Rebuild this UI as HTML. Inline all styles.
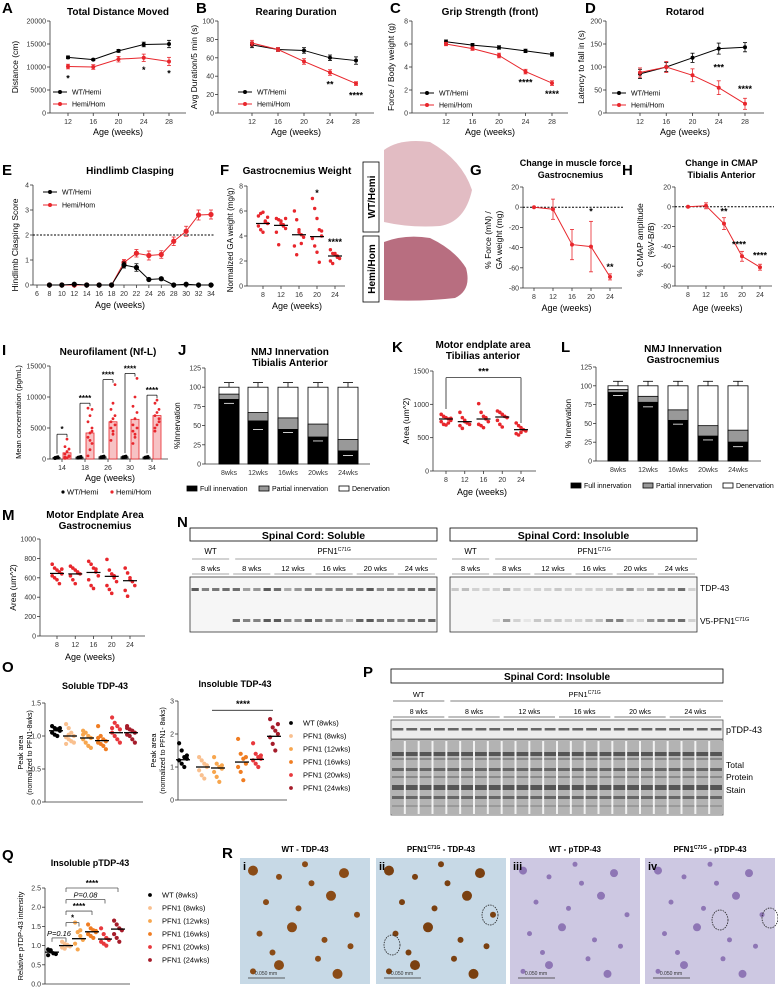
<!DOCTYPE html>
<html><head><meta charset="utf-8"><style>
html,body{margin:0;padding:0;background:#fff}
svg{display:block;font-family:"Liberation Sans",Arial,sans-serif}
</style></head><body>
<svg id="fig" width="778" height="987" viewBox="0 0 778 987"></svg>
<script>
// ---------- data ----------
const ageA=[12,16,20,24,28];
const distWT=[12100,11600,13500,14900,15000];
const distHom=[10100,10000,11700,12000,11200];
const distErrWT=[300,200,300,500,800];
const distErrHom=[500,500,600,800,900];
const rearWT=[74,69,68,60,57];
const rearHom=[76,69,56,44,32];
const rearErrWT=[3,2,3,3,4];
const rearErrHom=[3,2,3,3,2];
const gripWT=[6.2,5.9,5.7,5.4,5.1];
const gripHom=[6.0,5.6,5.0,3.6,2.6];
const gripErrWT=[0.15,0.15,0.15,0.15,0.15];
const gripErrHom=[0.15,0.15,0.2,0.2,0.2];
const rotWT=[85,100,120,140,143];
const rotHom=[88,100,82,55,20];
const rotErrWT=[10,10,10,12,10];
const rotErrHom=[10,12,14,15,12];
const ageE=[8,10,12,14,16,18,20,22,24,26,28,30,32,34];
const claspWT=[0,0,0.03,0,0,0,0.8,0.7,0.22,0.25,0,0.03,0,0];
const claspHom=[0,0,0,0,0,0,0.9,1.27,1.18,1.22,1.75,2.15,2.8,2.82];
const claspErrWT=[0,0,0,0,0,0,0.12,0.15,0.05,0.05,0,0,0,0];
const claspErrHom=[0,0,0,0,0,0,0.12,0.15,0.18,0.15,0.17,0.2,0.2,0.18];
const ageF=[8,12,16,20,24];
const gaPts=[[5.6,5.8,5.9,5.2,5.0,4.8,4.5,4.3,5.1,5.5],[5.4,5.3,5.0,4.9,4.6,4.3,3.3,5.2,4.8,5.4],[6.0,5.3,4.5,4.1,3.9,3.2,2.5,4.3,3.4],[7.0,6.2,5.4,4.5,4.0,3.8,3.2,2.7,1.9,4.4],[2.9,2.6,2.5,2.4,2.2,2.0,1.8,2.6,2.3]];
const gaMed=[5.0,4.85,4.1,3.95,2.4];
const ageG=[8,12,16,20,24];
const forceVals=[0,-2,-37,-39,-69];
const forceErr=[0,10,15,25,3];
const cmapVals=[0,1,-17,-50,-61];
const cmapErr=[0,3,6,5,3];
const nflCats=['14','18','26','30','34'];
const nflWT=[250,300,350,350,300];
const nflHom=[1000,4200,6000,6400,7000];
const nflPtsHom=[[100,200,400,800,1200,1600,2000,3200,500,300],[500,1500,2500,3500,4200,5000,6000,7000,8000,8200,3000,4500],[3000,4500,5500,6000,6500,7000,8000,9000,12000,5000,4000],[2500,4000,5000,5500,6500,7500,8500,10000,13000,4500,3500],[4500,5500,6500,7000,7500,8000,9000,9500,6000,5000]];
const nmjCats=['8wks','12wks','16wks','20wks','24wks'];
const taFull=[84,56,45,35,17];
const taPartial=[7,11,15,17,15];
const taErr=[2,8,1,2,3];
const gcFull=[91,78,54,33,25];
const gcPartial=[4,8,14,14,16];
const gcErr=[1,3,2,2,3];
const kPts=[[850,820,800,780,760,740,700,690,720,790],[880,800,760,720,700,680,640,740],[1010,880,820,780,740,700,680,650,800],[900,880,850,820,800,760,700,660],[720,680,650,620,600,560,540,580]];
const kMed=[780,740,780,810,620];
const mPts=[[740,700,680,660,640,620,600,580,540,690],[720,700,680,660,640,620,580,540,650],[770,740,700,660,620,580,520,490,690],[790,680,640,600,560,520,480,440,620],[700,650,600,560,520,470,410,580]];
const mMed=[645,640,655,615,570];
const oGroups=['WT (8wks)','PFN1 (8wks)','PFN1 (12wks)','PFN1 (16wks)','PFN1 (20wks)','PFN1 (24wks)'];
const solPts=[[1.15,1.12,1.1,1.08,1.05,1.02,1.0,1.12],[1.18,1.12,1.05,1.0,0.98,0.95,0.92,0.9,0.88,1.02],[1.08,1.05,1.0,0.97,0.95,0.9,0.85,0.82,1.02],[1.15,1.0,0.95,0.92,0.9,0.88,0.85,0.8,0.97],[1.28,1.2,1.15,1.1,1.05,1.0,0.95,0.9,1.12],[1.15,1.1,1.08,1.05,1.02,1.0,0.95,0.9,1.12]];
const solMean=[1.08,1.0,0.97,0.93,1.05,1.05];
const insPts=[[1.72,1.5,1.3,1.25,1.2,1.1,1.0,1.35],[1.3,1.2,1.1,1.0,0.9,0.75,0.65,1.05],[1.3,1.1,1.0,0.95,0.85,0.7,0.55,1.05],[1.85,1.4,1.25,1.1,1.0,0.85,0.6,1.3],[1.72,1.4,1.3,1.25,1.2,1.1,1.0,1.35],[2.45,2.2,2.1,2.0,1.9,1.7,1.5,2.3]];
const insMean=[1.22,1.0,0.97,1.15,1.23,1.93];
const qPts=[[0.9,0.85,0.8,0.78,0.75,0.88],[1.1,1.05,1.0,0.98,0.95,0.92,1.02],[1.6,1.35,1.25,1.15,1.05,0.9,1.4],[1.55,1.45,1.4,1.35,1.3,1.25,1.2,1.38],[1.45,1.3,1.2,1.15,1.1,1.05,1.0],[1.65,1.55,1.45,1.4,1.3,1.2,1.1]];
const qMean=[0.83,1.0,1.18,1.36,1.17,1.43];
const oColors=['#000','#f9c08f','#f7a64e','#f07d22','#e8383d','#a51c2a'];
const RED='#e8262c';

// ---------- helpers ----------
const NS='http://www.w3.org/2000/svg';
const svg=document.getElementById('fig');
function mk(tag,parent){const e=document.createElementNS(NS,tag);(parent||svg).appendChild(e);return e;}
function at(e,o){for(const k in o)e.setAttribute(k,o[k]);return e;}
function lin(a,b,p0,p1){return v=>p0+(v-a)/(b-a)*(p1-p0);}
function txt(x,y,s,size,name,opt){
  opt=opt||{};
  const t=mk('text');
  at(t,{x:x,y:y,'font-size':size,'text-anchor':opt.anchor||'middle',fill:opt.fill||'#000'});
  if(opt.bold)t.setAttribute('font-weight','bold');
  if(opt.italic)t.setAttribute('font-style','italic');
  if(opt.rot)t.setAttribute('transform','rotate('+opt.rot+' '+x+' '+y+')');
  t.textContent=s;
  
  
  return t;
}
function line(x1,y1,x2,y2,name,col,w,dash){
  const l=mk('line');
  at(l,{x1:x1,y1:y1,x2:x2,y2:y2,stroke:col||'#000','stroke-width':w||1});
  if(dash)l.setAttribute('stroke-dasharray',dash);
  
  
  return l;
}
function rect(x,y,w,h,name,fill,stroke){
  const r=mk('rect');
  at(r,{x:x,y:y,width:w,height:h,fill:fill||'none'});
  if(stroke){r.setAttribute('stroke',stroke);r.setAttribute('stroke-width',0.8);}
  
  
  return r;
}
function dot(x,y,r,col,name){
  const c=mk('circle');
  at(c,{cx:x,cy:y,r:r,fill:col});
  
  
  return c;
}
function yAxis(ax,sy,ticks,labels,pre,fs){
  line(ax,sy(ticks[0]),ax,sy(ticks[ticks.length-1]),pre+'-y-axis','#333',0.8);
  ticks.forEach((v,i)=>{line(ax-3,sy(v),ax,sy(v),pre+'-y-tick','#333',0.8);
    txt(ax-4,sy(v)+2.5,labels[i],fs||7,pre+'-y-tick-label',{anchor:'end',fill:'#333'});});
}
function xAxis(y,xa,xb,sx,vals,labels,pre,fs){
  line(xa,y,xb,y,pre+'-x-axis','#333',0.8);
  vals.forEach((v,i)=>{line(sx(v),y,sx(v),y+3,pre+'-x-tick','#333',0.8);
    txt(sx(v),y+11,labels[i],fs||7,pre+'-x-tick-label',{fill:'#333'});});
}
function series(sx,sy,xs,ys,errs,col,pre,r){
  const p=mk('polyline');
  at(p,{points:xs.map((x,i)=>sx(x)+','+sy(ys[i])).join(' '),fill:'none',stroke:col,'stroke-width':1});
  
  
  xs.forEach((x,i)=>{
    if(errs[i]>0){line(sx(x),sy(ys[i]-errs[i]),sx(x),sy(ys[i]+errs[i]),pre+'-error-bar',col,0.8);
      line(sx(x)-2,sy(ys[i]+errs[i]),sx(x)+2,sy(ys[i]+errs[i]),pre+'-error-cap',col,0.8);
      line(sx(x)-2,sy(ys[i]-errs[i]),sx(x)+2,sy(ys[i]-errs[i]),pre+'-error-cap',col,0.8);}
    dot(sx(x),sy(ys[i]),r||2,col,pre+'-point');
  });
}
function legendLine(x,y,col,label,pre){
  line(x,y,x+14,y,pre+'-legend-line',col,1);
  dot(x+7,y,2,col,pre+'-legend-marker');
  txt(x+19,y+2.5,label,7,pre+'-legend-label',{anchor:'start'});
}
function letter(x,y,s){txt(x,y,s,15,'panel-letter-'+s.toLowerCase(),{anchor:'start',bold:true});}

// ---------- Row 1 ----------
function row1(cfg){
  const sy=lin(cfg.ymin,cfg.ymax,113,21);
  const sx=lin(12,28,cfg.x0,cfg.x1);
  yAxis(cfg.ax,sy,cfg.ticks,cfg.labels,cfg.pre);
  xAxis(113,cfg.ax,cfg.end,sx,ageA,ageA.map(String),cfg.pre);
  txt((cfg.ax+cfg.end)/2,15,cfg.title,10,cfg.pre+'-title',{bold:true});
  txt((cfg.ax+cfg.end)/2,135,'Age (weeks)',9,cfg.pre+'-x-title');
  txt(cfg.ax-cfg.yoff,67,cfg.ytitle,8.5,cfg.pre+'-y-title',{rot:-90});
  series(sx,sy,ageA,cfg.wt,cfg.ewt,'#000',cfg.pre+'-wt');
  series(sx,sy,ageA,cfg.hom,cfg.ehom,RED,cfg.pre+'-hom');
  legendLine(cfg.lx,cfg.ly,'#000','WT/Hemi',cfg.pre);
  legendLine(cfg.lx,cfg.ly+12,RED,'Hemi/Hom',cfg.pre);
  cfg.stars.forEach(s=>txt(sx(s[0]),s[2]?sy(cfg.hom[ageA.indexOf(s[0])])+s[2]:0,s[1],9,cfg.pre+'-significance',{bold:true}));
}
letter(2,13,'A');letter(196,13,'B');letter(390,13,'C');letter(585,13,'D');
row1({pre:'distance',ax:50,end:186,x0:68,x1:169,ymin:0,ymax:20000,ticks:[0,5000,10000,15000,20000],labels:['0','5000','10000','15000','20000'],title:'Total Distance Moved',ytitle:'Distance (cm)',yoff:32,wt:distWT,hom:distHom,ewt:distErrWT,ehom:distErrHom,lx:53,ly:92,stars:[[12,'*',15],[24,'*',15],[28,'*',15]]});
row1({pre:'rearing',ax:218,end:374,x0:252,x1:356,ymin:0,ymax:100,ticks:[0,20,40,60,80,100],labels:['0','20','40','60','80','100'],title:'Rearing Duration',ytitle:'Avg Duration/5 min (s)',yoff:21,wt:rearWT,hom:rearHom,ewt:rearErrWT,ehom:rearErrHom,lx:238,ly:92,stars:[[24,'**',15],[28,'****',15]]});
row1({pre:'grip',ax:412,end:568,x0:446,x1:552,ymin:0,ymax:8,ticks:[0,2,4,6,8],labels:['0','2','4','6','8'],title:'Grip Strength (front)',ytitle:'Force / Body weight (g)',yoff:18,wt:gripWT,hom:gripHom,ewt:gripErrWT,ehom:gripErrHom,lx:420,ly:93,stars:[[24,'****',14],[28,'****',14]]});
row1({pre:'rotarod',ax:606,end:764,x0:640,x1:745,ymin:0,ymax:200,ticks:[0,50,100,150,200],labels:['0','50','100','150','200'],title:'Rotarod',ytitle:'Latency to fall in (s)',yoff:22,wt:rotWT,hom:rotHom,ewt:rotErrWT,ehom:rotErrHom,lx:612,ly:93,stars:[[24,'***',-17],[28,'****',-12]]});

// ---------- E ----------
letter(2,175,'E');
(function(){
  const sy=lin(0,4,285,185),sx=lin(6,34,37,211);
  yAxis(33,sy,[0,1,2,3,4],['0','1','2','3','4'],'clasping');
  xAxis(285,33,214,sx,[6].concat(ageE),['6'].concat(ageE.map(String)),'clasping');
  line(33,sy(2),214,sy(2),'clasping-threshold-line','#000',1,'2,1.5');
  txt(130,174,'Hindlimb Clasping',10,'clasping-title',{bold:true});
  txt(120,308,'Age (weeks)',9,'clasping-x-title');
  txt(18,245,'Hindlimb Clasping Score',8.5,'clasping-y-title',{rot:-90});
  series(sx,sy,ageE,claspHom,claspErrHom,RED,'clasping-hom',2.6);
  series(sx,sy,ageE,claspWT,claspErrWT,'#000','clasping-wt',2.6);
  legendLine(43,192,'#000','WT/Hemi','clasping');
  legendLine(43,205,RED,'Hemi/Hom','clasping');
})();

// ---------- F ----------
letter(220,175,'F');
(function(){
  const sy=lin(0,8,286,186),sx=lin(8,24,263,335);
  yAxis(247,sy,[0,2,4,6,8],['0','2','4','6','8'],'ga-weight');
  xAxis(286,247,345,sx,ageF,ageF.map(String),'ga-weight');
  txt(297,174,'Gastrocnemius Weight',10,'ga-weight-title',{bold:true});
  txt(297,309,'Age (weeks)',9,'ga-weight-x-title');
  txt(233,240,'Normalized GA weight (mg/g)',8,'ga-weight-y-title',{rot:-90});
  gaPts.forEach((g,i)=>{g.forEach((v,j)=>dot(sx(ageF[i])+((j%5)-2)*2.3,sy(v),1.7,RED,'ga-weight-point'));
    line(sx(ageF[i])-7,sy(gaMed[i]),sx(ageF[i])+7,sy(gaMed[i]),'ga-weight-median','#000',1.2);});
  txt(sx(20),sy(7.2),'*',9,'ga-weight-significance',{bold:true});
  txt(sx(24),sy(3.3),'****',9,'ga-weight-significance',{bold:true});
})();
// histology
(function(){
  rect(363,162,16,70,'wt-hemi-label-box','#fff','#000');
  txt(375,197,'WT/Hemi',10,'wt-hemi-label',{bold:true,rot:-90});
  rect(363,236,16,66,'hemi-hom-label-box','#fff','#000');
  txt(375,269,'Hemi/Hom',10,'hemi-hom-label',{bold:true,rot:-90});
  const p1=mk('path');at(p1,{d:'M384,150 Q400,138 430,142 Q462,160 472,190 Q465,222 440,226 Q410,228 384,222 Z',fill:'#e2bcc3'});
  
  const p2=mk('path');at(p2,{d:'M384,242 Q405,234 430,238 Q455,250 466,268 Q472,290 455,298 Q420,302 384,300 Z',fill:'#b86e80'});
  
})();

// ---------- G / H ----------
function changeChart(pre,ax,x0,x1,ybot,vals,errs,title1,title2,yt1,yt2,letterX,L,stars){
  letter(letterX,175,L);
  const sy=lin(-80,20,ybot,187),sx=lin(8,24,x0,x1);
  yAxis(ax,sy,[-80,-60,-40,-20,0,20],['-80','-60','-40','-20','0','20'],pre);
  xAxis(ybot,ax,x1+12,sx,ageG,ageG.map(String),pre);
  line(ax,sy(0),x1+14,sy(0),pre+'-zero-line','#000',1,'2,1.5');
  txt((ax+x1)/2+4,166,title1,9,pre+'-title',{bold:true});
  txt((ax+x1)/2+4,178,title2,9,pre+'-title',{bold:true});
  txt((ax+x1)/2,311,'Age (weeks)',9,pre+'-x-title');
  txt(ax-32,240,yt1,8.5,pre+'-y-title',{rot:-90});
  txt(ax-21,240,yt2,8.5,pre+'-y-title',{rot:-90});
  series(sx,sy,ageG,vals,errs,RED,pre+'-hom');
  stars.forEach(s=>txt(sx(s[0])+(s[2]||0),sy(s[1]),s[3],9,pre+'-significance',{bold:true}));
}
changeChart('muscle-force',523,534,610,288,forceVals,forceErr,'Change in muscle force','Gastrocnemius','% Force (mN) /','GA weight (mg)',470,'G',[[20,-7,0,'*'],[24,-62,0,'**']]);
changeChart('cmap',675,688,760,286,cmapVals,cmapErr,'Change in CMAP','Tibialis Anterior','% CMAP amplitude','(%V-B/B)',622,'H',[[16,-8,0,'**'],[20,-41,-3,'****'],[24,-52,0,'****']]);

// ---------- I ----------
letter(2,355,'I');
(function(){
  const sy=lin(0,15000,459,366);
  const cx=[62,85,108,130,152];
  yAxis(50,sy,[0,5000,10000,15000],['0','5000','10000','15000'],'nfl');
  line(50,459,168,459,'nfl-x-axis','#333',0.8);
  nflCats.forEach((c,i)=>{line(cx[i],459,cx[i],462,'nfl-x-tick','#333',0.8);txt(cx[i],470,c,7,'nfl-x-tick-label',{fill:'#333'});
    rect(cx[i]-9,sy(nflWT[i]),7,459-sy(nflWT[i]),'nfl-bar-wt','#ddd','#000');
    rect(cx[i]+1,sy(nflHom[i]),8,459-sy(nflHom[i]),'nfl-bar-hom','#f7c2c4',RED);
    for(let j=0;j<6;j++)dot(cx[i]-5.5+(j%3-1)*1.5,sy(nflWT[i]+(j-3)*60),1.4,'#000','nfl-point-wt');
    nflPtsHom[i].forEach((v,j)=>dot(cx[i]+5+((j%3)-1)*2,sy(v),1.4,RED,'nfl-point-hom'));
    const top=Math.max.apply(null,nflPtsHom[i])+800;
    line(cx[i]-5,sy(nflWT[i]+600),cx[i]-5,sy(top),'nfl-bracket','#000',0.7);
    line(cx[i]-5,sy(top),cx[i]+5,sy(top),'nfl-bracket','#000',0.7);
    line(cx[i]+5,sy(top),cx[i]+5,sy(top-500),'nfl-bracket','#000',0.7);
    txt(cx[i],sy(top)-2,i===0?'*':'****',8,'nfl-significance',{bold:true});
  });
  txt(108,355,'Neurofilament (Nf-L)',10,'nfl-title',{bold:true});
  txt(110,481,'Age (weeks)',9,'nfl-x-title');
  txt(21,412,'Mean concentration (pg/mL)',7.5,'nfl-y-title',{rot:-90});
  dot(63,492,1.6,'#000','nfl-legend-marker');txt(67,494.5,'WT/Hemi',7.5,'nfl-legend-label',{anchor:'start'});
  dot(112,492,1.6,RED,'nfl-legend-marker');txt(116,494.5,'Hemi/Hom',7.5,'nfl-legend-label',{anchor:'start'});
})();

// ---------- J / L stacked bars ----------
function stacked(pre,ax,ybot,ytop125,cx,full,part,err,t1,t2,tx,L,lx,ly,ytitle,legX){
  letter(lx,ly,L);
  const sy=lin(0,125,ybot,ytop125);
  yAxis(ax,sy,[0,25,50,75,100,125],['0','25','50','75','100','125'],pre);
  line(ax,ybot,ax+165,ybot,pre+'-x-axis','#333',0.8);
  nmjCats.forEach((c,i)=>{
    const x=cx[i]-10;
    rect(x,sy(100),20,ybot-sy(100),pre+'-bar-denervation-'+c,'#fff','#000');
    rect(x,sy(full[i]+part[i]),20,sy(full[i])-sy(full[i]+part[i]),pre+'-bar-partial-'+c,'#999','#000');
    rect(x,sy(full[i]),20,ybot-sy(full[i]),pre+'-bar-full-'+c,'#000','#000');
    line(cx[i],sy(100),cx[i],sy(100+6),pre+'-error-bar','#000',0.8);
    line(cx[i]-5,sy(106),cx[i]+5,sy(106),pre+'-error-cap','#000',0.8);
    line(cx[i]-5,sy(full[i]-err[i]-3),cx[i]+5,sy(full[i]-err[i]-3),pre+'-error-cap','#fff',0.8);
    txt(cx[i],ybot+11,c,7,pre+'-x-tick-label',{fill:'#333'});
  });
  txt(tx,ly,t1,10,pre+'-title',{bold:true});
  txt(tx,ly+11,t2,10,pre+'-title',{bold:true});
  txt(ax-25,(ybot+sy(100))/2,ytitle,8,pre+'-y-title',{rot:-90});
  const yy=ybot+27;
  rect(legX,yy-5,10,5,pre+'-legend-full','#000','#000');txt(legX+13,yy,'Full innervation',7,pre+'-legend-label',{anchor:'start'});
  rect(legX+72,yy-5,10,5,pre+'-legend-partial','#999','#000');txt(legX+85,yy,'Partial innervation',7,pre+'-legend-label',{anchor:'start'});
  rect(legX+152,yy-5,10,5,pre+'-legend-denervation','#fff','#000');txt(legX+165,yy,'Denervation',7,pre+'-legend-label',{anchor:'start'});
}
stacked('nmj-ta',205,464,368,[229,258,288,318,348],taFull,taPartial,taErr,'NMJ Innervation','Tibialis Anterior',290,'J',178,355,'%Innervation',187);
stacked('nmj-gc',596,461,367,[618,648,678,708,738],gcFull,gcPartial,gcErr,'NMJ Innervation','Gastrocnemius',683,'L',561,352,'% Innervation',571);

// ---------- K / M scatter ----------
function scatter(pre,ax,ybot,ymin,ymax,ytopPix,ticks,labels,x0,x1,pts,med,t1,t2,tx,ty,ytitle,L,lx,ly){
  letter(lx,ly,L);
  const sy=lin(ymin,ymax,ybot,ytopPix),sx=lin(8,24,x0,x1);
  yAxis(ax,sy,ticks,labels,pre);
  xAxis(ybot,ax,x1+15,sx,ageF,ageF.map(String),pre);
  pts.forEach((g,i)=>{g.forEach((v,j)=>dot(sx(ageF[i])+((j%5)-2)*2.4,sy(v),1.8,RED,pre+'-point'));
    line(sx(ageF[i])-7,sy(med[i]),sx(ageF[i])+7,sy(med[i]),pre+'-median','#000',1.2);});
  txt(tx,ty,t1,10,pre+'-title',{bold:true});
  txt(tx,ty+11,t2,10,pre+'-title',{bold:true});
  txt((ax+x1)/2+5,ybot+24,'Age (weeks)',9,pre+'-x-title');
  txt(ax-24,(ybot+ytopPix)/2,ytitle,8.5,pre+'-y-title',{rot:-90});
  return [sx,sy];
}
const kS=scatter('endplate-ta',433,471,0,1500,371,[0,500,1000,1500],['0','500','1000','1500'],446,521,kPts,kMed,'Motor endplate area','Tibilias anterior',483,348,'Area (um^2)','K',392,352);
line(kS[0](8),kS[1](930),kS[0](8),kS[1](1400),'endplate-ta-bracket','#000',0.7);
line(kS[0](8),kS[1](1400),kS[0](24),kS[1](1400),'endplate-ta-bracket','#000',0.7);
line(kS[0](24),kS[1](1400),kS[0](24),kS[1](720),'endplate-ta-bracket','#000',0.7);
txt(kS[0](16),kS[1](1400)-3,'***',9,'endplate-ta-significance',{bold:true});
scatter('endplate-gc',40,636,0,1000,539,[0,200,400,600,800,1000],['0','200','400','600','800','1000'],57,130,mPts,mMed,'Motor Endplate Area','Gastrocnemius',95,518,'Area (um^2)','M',2,520);

// ---------- N blots ----------
function blot(pre,x0,x1,y0,y1,title,lanesTDP,lanesV5,wtN){
  rect(x0,y0,x1-x0,13,pre+'-header-box','#fff','#000');
  txt((x0+x1)/2,y0+11,title,10.5,pre+'-header',{bold:true});
  const n=lanesTDP.length,lw=(x1-x0)/n;
  txt(x0+lw*wtN/2,y0+26,'WT',8,pre+'-wt-label');
  line(x0+2,y0+31,x0+lw*wtN-2,y0+31,pre+'-wt-underline','#888',0.8);
  const pf=txt((x0+lw*wtN+x1)/2,y0+26,'PFN1',8,pre+'-pfn1-label');
  const sp=mk('tspan',pf);at(sp,{'font-size':5,dy:-3});sp.textContent='C71G';
  line(x0+lw*wtN+4,y0+31,x1,y0+31,pre+'-pfn1-underline','#888',0.8);
  const grp=['8 wks','8 wks','12 wks','16 wks','20 wks','24 wks'];
  grp.forEach((g,i)=>{const a=x0+i*4*lw,b=a+4*lw;txt((a+b)/2,y0+43,g,7.5,pre+'-age-label');
    line(a+2,y0+46,b-2,y0+46,pre+'-age-underline','#888',0.8);});
  rect(x0,577,x1-x0,55,pre+'-blot-frame','#f6f6f6','#333');
  lanesTDP.forEach((v,i)=>{
    rect(x0+i*lw+1.5,588,lw-3,3,pre+'-tdp43-band','rgb('+(240-v)+','+(240-v)+','+(240-v)+')');
    if(lanesV5[i]>0)rect(x0+i*lw+1.5,619,lw-3,3,pre+'-v5-band','rgb('+(240-lanesV5[i])+','+(240-lanesV5[i])+','+(240-lanesV5[i])+')');
  });
}
letter(177,527,'N');
const solTDP=[150,110,120,130,130,80,90,150,130,70,90,110,110,110,110,110,120,150,100,120,110,130,130,140];
const solV5=[0,0,0,0,130,110,110,150,150,110,100,140,120,110,100,60,140,150,120,120,110,130,130,140];
const insTDP=[40,50,30,30,30,60,30,20,30,30,40,30,30,30,30,40,60,90,40,80,100,90,130,30];
const insV5=[0,0,0,0,20,80,30,10,40,40,40,30,30,40,50,110,110,40,30,90,110,120,130,30];
blot('blot-soluble',190,437,528,632,'Spinal Cord: Soluble',solTDP,solV5,4);
blot('blot-insoluble',450,697,528,632,'Spinal Cord: Insoluble',insTDP,insV5,4);
txt(700,591,'TDP-43',8.5,'tdp43-band-label',{anchor:'start'});
const v5l=txt(700,624,'V5-PFN1',8.5,'v5-pfn1-band-label',{anchor:'start'});
const v5s=mk('tspan',v5l);at(v5s,{'font-size':5.5,dy:-3});v5s.textContent='C71G';

// ---------- O ----------
letter(2,672,'O');
function groupScatter(pre,ax,ybot,ymax,ytop,ticks,labels,cx,pts,mean,title,tx,ty,yt1,yt2,xEnd){
  const sy=lin(0,ymax,ybot,ytop);
  yAxis(ax,sy,ticks,labels,pre);
  line(ax,ybot,xEnd,ybot,pre+'-x-axis','#333',0.8);
  pts.forEach((g,i)=>{g.forEach((v,j)=>dot(cx[i]+((j%4)-1.5)*2.6,sy(v),2.1,oColors[i],pre+'-point'));
    line(cx[i]-7,sy(mean[i]),cx[i]+7,sy(mean[i]),pre+'-mean','#000',1.3);});
  txt(tx,ty,title,9,pre+'-title',{bold:true});
  txt(ax-22,(ybot+ytop)/2,yt1,7.5,pre+'-y-title',{rot:-90});
  txt(ax-13,(ybot+ytop)/2,yt2,7,pre+'-y-title',{rot:-90});
  return sy;
}
function groupLegend(pre,x,y){
  oGroups.forEach((g,i)=>{dot(x,y+i*13,1.9,oColors[i],pre+'-legend-marker');
    txt(x+12,y+i*13+2.5,g,7.5,pre+'-legend-label',{anchor:'start'});});
}
groupScatter('soluble-tdp43',45,802,1.5,703,[0,0.5,1,1.5],['0.0','0.5','1.0','1.5'],[56,70,87,102,116,131],solPts,solMean,'Soluble TDP-43',95,689,'Peak area','(normalized to PFN1-8wks)',143);
const insSy=groupScatter('insoluble-tdp43',178,800,3,701,[0,1,2,3],['0','1','2','3'],[183,203,218,242,257,274],insPts,insMean,'Insoluble TDP-43',235,687,'Peak area','(normalized to PFN1- 8wks)',287);
line(212,insSy(2.72),273,insSy(2.72),'insoluble-tdp43-bracket','#000',0.8);
txt(243,insSy(2.72)-3,'****',9,'insoluble-tdp43-significance',{bold:true});
groupLegend('o',291,723);

// ---------- P ----------
letter(363,677,'P');
(function(){
  const x0=391,x1=723;
  rect(x0,669,x1-x0,14,'p-header-box','#fff','#000');
  txt((x0+x1)/2,680,'Spinal Cord: Insoluble',10,'p-header',{bold:true});
  const lw=(x1-x0)/24;
  txt(x0+lw*2,697,'WT',7.5,'p-wt-label');
  line(x0+2,701,x0+lw*4-2,701,'p-wt-underline','#555',0.8);
  const pf=txt((x0+lw*4+x1)/2,697,'PFN1',7.5,'p-pfn1-label');
  const sp=mk('tspan',pf);at(sp,{'font-size':5,dy:-3});sp.textContent='C71G';
  line(x0+lw*4+4,701,x1,701,'p-pfn1-underline','#555',0.8);
  ['8 wks','8 wks','12 wks','16 wks','20 wks','24 wks'].forEach((g,i)=>{const a=x0+i*4*lw,b=a+4*lw;
    txt((a+b)/2,714,g,7,'p-age-label');line(a+2,717,b-2,717,'p-age-underline','#555',0.8);});
  rect(x0,720,x1-x0,19,'p-ptdp43-blot','#ececec','#555');
  rect(x0,740,x1-x0,75,'p-total-protein-blot','#f2f2f2','#555');
  for(let i=0;i<24;i++){
    rect(x0+i*lw+1.5,728,lw-3,2.5,'p-ptdp43-band','#666');
    rect(x0+i*lw+1,741,lw-2,73,'p-total-protein-lane','#b3b3b3');
    [[752,4,'#555'],[758,2,'#888'],[768,3,'#666'],[776,2,'#888'],[785,5,'#555'],[796,3,'#666'],[805,2,'#999']].forEach(b=>rect(x0+i*lw+1,b[0],lw-2,b[1],'p-total-protein-band',b[2]));
  }
  txt(726,733,'pTDP-43',9,'p-ptdp43-label',{anchor:'start'});
  txt(726,768,'Total',8.5,'p-total-label',{anchor:'start'});
  txt(726,780,'Protein',8.5,'p-protein-label',{anchor:'start'});
  txt(726,793,'Stain',8.5,'p-stain-label',{anchor:'start'});
})();

// ---------- Q ----------
letter(2,860,'Q');
(function(){
  const cx=[52,66,79,92,105,118];
  const sy=groupScatter('ptdp43',45,984,2.5,888,[0,0.5,1,1.5,2,2.5],['0.0','0.5','1.0','1.5','2.0','2.5'],cx,qPts,qMean,'Insoluble pTDP-43',90,866,'Relative pTDP-43 intensity','',130);
  function br(a,b,y,label,it){
    line(cx[a],sy(y)+4,cx[a],sy(y),'ptdp43-bracket','#555',0.8);
    line(cx[a],sy(y),cx[b],sy(y),'ptdp43-bracket','#555',0.8);
    line(cx[b],sy(y),cx[b],sy(y)+4,'ptdp43-bracket','#555',0.8);
    txt((cx[a]+cx[b])/2,sy(y)-2,label,it?7.5:8,'ptdp43-significance',{italic:it,bold:!it});
  }
  br(0,1,1.2,'P=0.16',true);br(1,2,1.6,'*');br(1,3,1.9,'****');br(1,4,2.2,'P=0.08',true);br(1,5,2.5,'****');
  groupLegend('q',150,895);
})();

// ---------- R ----------
letter(222,858,'R');
(function(){
  const panels=[{x:240,t:'WT - TDP-43',n:'i',bg:'#c7d9e6',c:'#8a4b16'},{x:376,t:'PFN1C71G - TDP-43',n:'ii',bg:'#c7d9e6',c:'#7a4010'},{x:510,t:'WT - pTDP-43',n:'iii',bg:'#cdc8e2',c:'#8e76b5'},{x:645,t:'PFN1C71G - pTDP-43',n:'iv',bg:'#cdc8e2',c:'#8e76b5'}];
  const cellsX=[0.1,0.3,0.55,0.8,0.2,0.45,0.7,0.9,0.15,0.4,0.65,0.85,0.3,0.6,0.1,0.75,0.5,0.25];
  const cellsY=[0.1,0.15,0.2,0.12,0.35,0.4,0.3,0.45,0.6,0.55,0.65,0.7,0.85,0.8,0.9,0.92,0.05,0.75];
  panels.forEach((p,pi)=>{
    rect(p.x,858,130,126,'histology-panel-'+p.n,p.bg);
    cellsX.forEach((cxv,k)=>{const r=pi<2?(k%3===0?5:3):(k%3===0?4:2.5);
      dot(p.x+cxv*130,858+cellsY[k]*126,r,p.c,'histology-cell-'+p.n);});
    txt(p.x+3,870,p.n,11,'histology-panel-label-'+p.n,{anchor:'start',bold:true});
    const tt=txt(p.x+65,852,'',8,'histology-title-'+p.n,{bold:true});
    if(p.t.indexOf('C71G')>0){const a=mk('tspan',tt);a.textContent='PFN1';const b=mk('tspan',tt);at(b,{'font-size':5,dy:-3});b.textContent='C71G';const c=mk('tspan',tt);at(c,{dy:3});c.textContent=' - '+p.t.split(' - ')[1];}
    else tt.textContent=p.t;
    line(p.x+8,978,p.x+45,978,'scale-bar-'+p.n,'#333',0.8);
    txt(p.x+26,975,'0.050 mm',5,'scale-bar-label-'+p.n,{fill:'#333'});
  });
  [[392,945],[490,915],[720,920],[770,918]].forEach((a,i)=>{
    const e=mk('ellipse');at(e,{cx:a[0],cy:a[1],rx:8,ry:10,fill:'none',stroke:'#222','stroke-width':0.8,'stroke-dasharray':'1.5,1'});
    
  });
})();
</script>
</body></html>
